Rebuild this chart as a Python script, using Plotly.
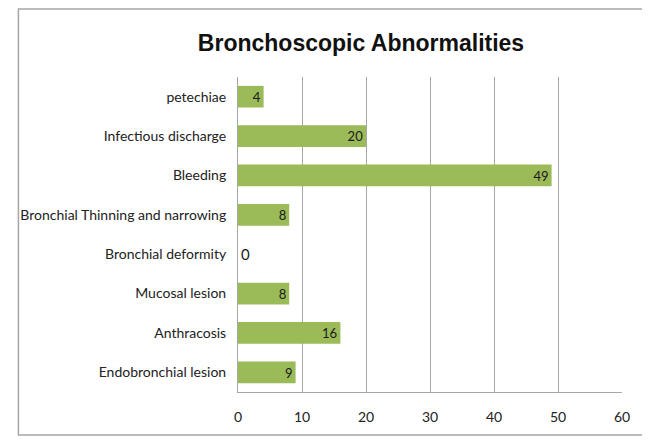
import plotly.graph_objects as go

CATEGORIES = [
    "Endobronchial lesion",
    "Anthracosis",
    "Mucosal lesion",
    "Bronchial deformity",
    "Bronchial Thinning and narrowing",
    "Bleeding",
    "Infectious discharge",
    "petechiae",
]
VALUES = [9, 16, 8, 0, 8, 49, 20, 4]
X_TICKS = [0, 10, 20, 30, 40, 50, 60]

BAR_COLOR = "#9BBB59"
GRID = "#A6A6A6"
FONT = "Lato, Open Sans, sans-serif"

positions = ["outside" if v == 0 else "inside" for v in VALUES]

fig = go.Figure(
    go.Bar(
        x=VALUES,
        y=CATEGORIES,
        orientation="h",
        width=0.55,
        marker=dict(color=BAR_COLOR, line=dict(width=0)),
        text=[str(v) for v in VALUES],
        textposition=positions,
        insidetextanchor="end",
        textangle=0,
        textfont=dict(family=FONT, size=15, color="#1a1a1a"),
        cliponaxis=False,
    )
)

# page has an 8px body margin, so the figure is laid out 8px in from the window
W, H = 642, 433
L, R, T, B = 224, 28, 69, 49
pw, ph = W - L - R, H - T - B

# outer chart frame
fig.add_shape(
    type="rect",
    xref="paper", yref="paper",
    x0=(1 - L) / pw, x1=(637 - L) / pw,
    y0=(H - B - 427) / ph, y1=(H - B - 1) / ph,
    line=dict(color="#A6A6A6", width=1.5),
    layer="below",
)

fig.update_layout(
    width=W,
    height=H,
    margin=dict(l=L, r=R, t=T, b=B),
    paper_bgcolor="white",
    plot_bgcolor="white",
    showlegend=False,
    title=dict(
        text="<b>Bronchoscopic Abnormalities</b>",
        x=353 / W,
        xanchor="center",
        y=1 - 35 / H,
        yanchor="middle",
        font=dict(family="Liberation Sans, Arial, sans-serif", size=23, color="#111111"),
    ),
    xaxis=dict(
        range=[0, 60],
        tickvals=X_TICKS,
        showgrid=True,
        gridcolor=GRID,
        gridwidth=1,
        zeroline=False,
        showline=True,
        linecolor=GRID,
        linewidth=1,
        ticks="",
        ticklabelstandoff=12,
        tickfont=dict(family=FONT, size=14, color="#222222"),
        fixedrange=True,
    ),
    yaxis=dict(
        showgrid=False,
        zeroline=False,
        showline=True,
        linecolor=GRID,
        linewidth=1,
        ticks="",
        ticklabelstandoff=8,
        tickfont=dict(family=FONT, size=14, color="#222222"),
        fixedrange=True,
    ),
)

fig.write_html("out.html")
